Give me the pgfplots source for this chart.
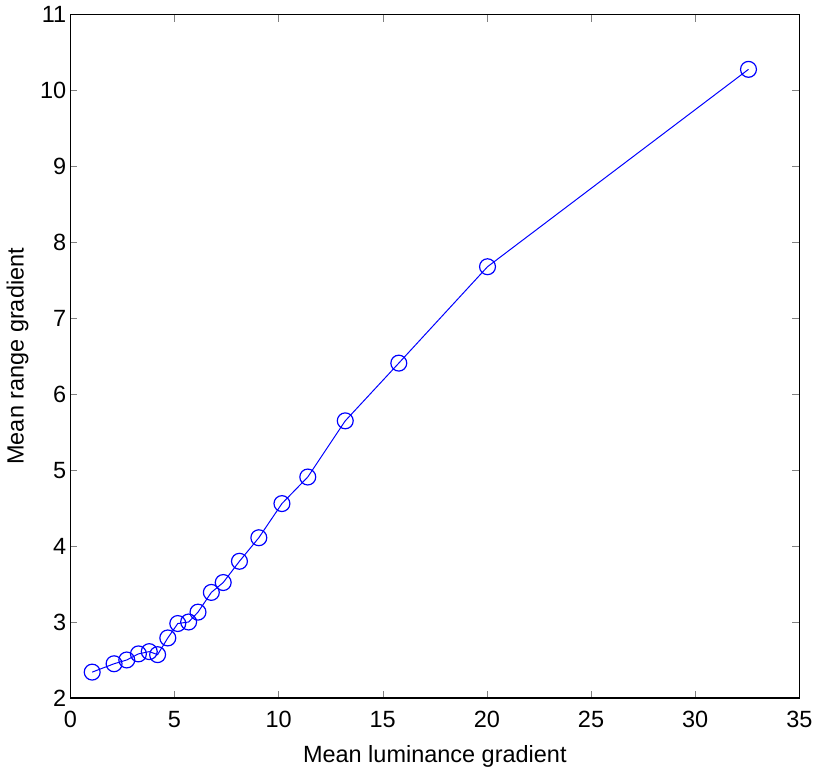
\documentclass[border=0pt]{standalone}
\usepackage{fontspec}
\setmainfont{Liberation Sans}
\usepackage{pgfplots}
\pgfplotsset{compat=1.18}

\begin{document}
\begin{tikzpicture}
\begin{axis}[
  width=366.5pt, height=343.5pt, scale only axis,
  xmin=0, xmax=35, ymin=2, ymax=11,
  xtick={0,5,...,35}, ytick={2,3,...,11},
  tick align=inside, tick pos=both,
  major tick length=3.5pt,
  xlabel={Mean luminance gradient}, ylabel={Mean range gradient},
  label style={font=\fontsize{11.8}{13}\selectfont},
  tick label style={font=\fontsize{11.8}{13}\selectfont},
  /pgf/number format/assume math mode=true,
  xticklabel style={yshift=-3pt},
  yticklabel style={xshift=1.5pt},
  xlabel style={yshift=-2pt}, ylabel style={yshift=-1pt},
  axis line style={black, line width=0.6pt},
]
\addplot[blue, line width=0.5pt, mark=o, mark size=4pt, mark options={solid, line width=0.6pt}] coordinates {
  (1.05,2.34) (2.10,2.45) (2.71,2.50) (3.27,2.58) (3.79,2.61) (4.19,2.57)
  (4.68,2.79) (5.16,2.98) (5.68,3.00) (6.13,3.13) (6.77,3.39) (7.34,3.52)
  (8.12,3.80) (9.05,4.11) (10.16,4.56) (11.40,4.91) (13.20,5.65)
  (15.77,6.41) (20.03,7.68) (32.56,10.28)
};
\end{axis}
\end{tikzpicture}
\end{document}
